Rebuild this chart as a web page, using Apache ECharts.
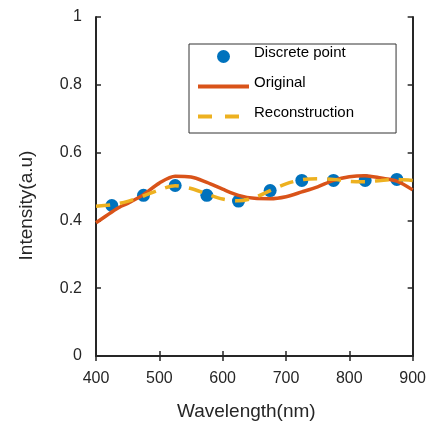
<!DOCTYPE html>
<html>
<head>
<meta charset="utf-8">
<script src="https://cdn.jsdelivr.net/npm/echarts@6/dist/echarts.min.js"></script>
<style>html,body{margin:0;padding:0;background:#fff;}#c{width:429px;height:426px;}</style>
</head>
<body>
<div id="c"></div>
<script>
var pointX = [425, 475, 525, 575, 625, 675, 725, 775, 825, 875];
var pointY = [0.444, 0.474, 0.503, 0.474, 0.457, 0.488, 0.518, 0.518, 0.518, 0.521];

var origX = [400, 425, 437, 450, 475, 500, 525, 550, 575, 600, 625, 650, 675, 700, 725, 750, 775, 800, 825, 850, 875, 900];
var origY = [0.393, 0.425, 0.439, 0.450, 0.476, 0.510, 0.530, 0.528, 0.512, 0.492, 0.474, 0.465, 0.464, 0.470, 0.484, 0.499, 0.518, 0.529, 0.532, 0.525, 0.516, 0.490];

var recX = [400, 425, 450, 475, 500, 525, 550, 575, 600, 625, 650, 675, 700, 725, 750, 775, 800, 825, 850, 875, 900];
var recY = [0.442, 0.446, 0.456, 0.472, 0.490, 0.502, 0.494, 0.478, 0.463, 0.458, 0.467, 0.488, 0.508, 0.520, 0.523, 0.521, 0.515, 0.514, 0.518, 0.521, 0.518];

var xTicks = [400, 500, 600, 700, 800, 900];
var yTicks = [0, 0.2, 0.4, 0.6, 0.8, 1];

function pairs(xs, ys) { return xs.map(function (x, i) { return [x, ys[i]]; }); }

var axisColor = '#262626';
var font = 'Arial, "Liberation Sans", sans-serif';
var dash = [14, 10];

var tickStyle = { show: true, inside: true, length: 5, lineStyle: { color: axisColor, width: 1.5 } };
var lineStyleAxis = { show: true, lineStyle: { color: axisColor, width: 2 } };

var chart = echarts.init(document.getElementById('c'), null, { renderer: 'canvas' });
chart.setOption({
  animation: false,
  backgroundColor: '#ffffff',
  grid: { left: 96, top: 17, right: 13, bottom: 69, containLabel: false },
  legend: {
    orient: 'vertical',
    left: 189,
    top: 44,
    padding: [1, 42, 5, 7],
    itemWidth: 51,
    itemHeight: 13,
    itemGap: 7,
    borderColor: '#333333',
    borderWidth: 1,
    backgroundColor: '#ffffff',
    formatter: function (name) { return '{t|' + name + '}'; },
    textStyle: {
      fontFamily: font, fontSize: 15, color: '#000000',
      rich: { t: { fontFamily: font, fontSize: 15, color: '#000000', lineHeight: 18, padding: [0, 0, 8, 0] } }
    },
    data: [
      { name: 'Discrete point', icon: 'circle', itemStyle: { color: '#0072BD', opacity: 1 } },
      { name: 'Original', itemStyle: { opacity: 0 }, lineStyle: { color: '#D95319', width: 4, type: 'solid' } },
      { name: 'Reconstruction', itemStyle: { opacity: 0 }, lineStyle: { color: '#EDB120', width: 4, type: [14, 13] } }
    ]
  },
  xAxis: [{
    type: 'value', min: 400, max: 900, interval: 100,
    name: 'Wavelength(nm)', nameLocation: 'middle', nameGap: 46,
    nameTextStyle: { fontFamily: font, fontSize: 19, color: axisColor, padding: [0, 16, 0, 0] },
    axisLine: lineStyleAxis,
    axisTick: tickStyle,
    axisLabel: { fontFamily: font, fontSize: 16, color: axisColor, margin: 15 },
    splitLine: { show: false }
  }, {
    type: 'value', min: 400, max: 900, interval: 100, position: 'top',
    axisLine: lineStyleAxis,
    axisTick: tickStyle,
    axisLabel: { show: false },
    splitLine: { show: false }
  }],
  yAxis: [{
    type: 'value', min: 0, max: 1, interval: 0.2,
    name: 'Intensity(a.u)', nameLocation: 'middle', nameGap: 60, nameRotate: 90,
    nameTextStyle: { fontFamily: font, fontSize: 19, color: axisColor, padding: [0, 38, 0, 0] },
    axisLine: lineStyleAxis,
    axisTick: tickStyle,
    axisLabel: { fontFamily: font, fontSize: 16, color: axisColor, margin: 14, padding: [0, 0, 4, 0],
      formatter: function (v) { return (v === 0 || v === 1) ? String(v) : v.toFixed(1); } },
    splitLine: { show: false }
  }, {
    type: 'value', min: 0, max: 1, interval: 0.2, position: 'right',
    axisLine: lineStyleAxis,
    axisTick: tickStyle,
    axisLabel: { show: false },
    splitLine: { show: false }
  }],
  series: [{
    name: 'Discrete point', type: 'scatter',
    symbol: 'circle', symbolSize: 13,
    itemStyle: { color: '#0072BD', opacity: 1 },
    data: pairs(pointX, pointY), z: 3
  }, {
    name: 'Original', type: 'line', smooth: 0.3,
    symbol: 'none', showSymbol: false,
    lineStyle: { color: '#D95319', width: 3.5 },
    itemStyle: { color: '#D95319' },
    data: pairs(origX, origY), z: 4
  }, {
    name: 'Reconstruction', type: 'line', smooth: 0.3,
    symbol: 'none', showSymbol: false,
    lineStyle: { color: '#EDB120', width: 3.5, type: dash },
    itemStyle: { color: '#EDB120' },
    data: pairs(recX, recY), z: 5
  }]
});
</script>
</body>
</html>
